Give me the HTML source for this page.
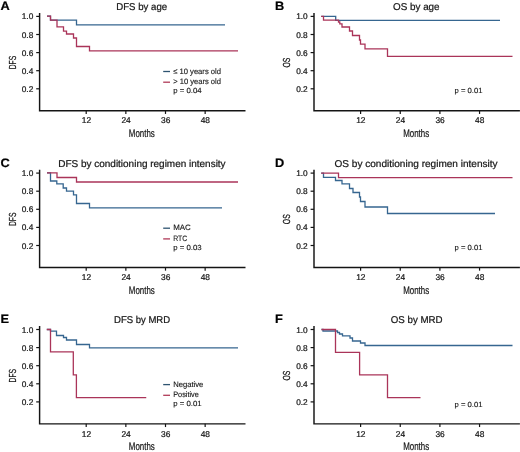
<!DOCTYPE html><html><head><meta charset="utf-8"><style>html,body{margin:0;padding:0;background:#fff;}svg{display:block;will-change:transform;}text{font-family:"Liberation Sans", sans-serif;text-rendering:geometricPrecision;stroke:#161616;stroke-width:0.22px;}</style></head><body>
<svg width="520" height="452" viewBox="0 0 520 452">
<rect width="520" height="452" fill="#fff"/>
<text transform="translate(0.6,9.8) scale(1.05,1)" font-size="12.2" font-weight="bold" fill="#000">A</text>
<text x="116.3" y="9.85" font-size="9.9" fill="#161616" textLength="50.8" lengthAdjust="spacingAndGlyphs">DFS by age</text>
<path d="M39.6,13 V110.75 H245.5" fill="none" stroke="#141414" stroke-width="1.45"/>
<path d="M36.2,16.4 H39.6" stroke="#141414" stroke-width="1.2"/>
<text x="33.3" y="19.4" font-size="8.3" fill="#161616" text-anchor="end">1.0</text>
<path d="M36.2,34.5 H39.6" stroke="#141414" stroke-width="1.2"/>
<text x="33.3" y="37.5" font-size="8.3" fill="#161616" text-anchor="end">0.8</text>
<path d="M36.2,52.6 H39.6" stroke="#141414" stroke-width="1.2"/>
<text x="33.3" y="55.6" font-size="8.3" fill="#161616" text-anchor="end">0.6</text>
<path d="M36.2,70.7 H39.6" stroke="#141414" stroke-width="1.2"/>
<text x="33.3" y="73.7" font-size="8.3" fill="#161616" text-anchor="end">0.4</text>
<path d="M36.2,88.8 H39.6" stroke="#141414" stroke-width="1.2"/>
<text x="33.3" y="91.8" font-size="8.3" fill="#161616" text-anchor="end">0.2</text>
<path d="M86.2,110.75 V113.95" stroke="#141414" stroke-width="1.2"/>
<text x="86.4" y="123.4" font-size="8.4" fill="#161616" text-anchor="middle">12</text>
<path d="M125.85,110.75 V113.95" stroke="#141414" stroke-width="1.2"/>
<text x="126.05" y="123.4" font-size="8.4" fill="#161616" text-anchor="middle">24</text>
<path d="M165.5,110.75 V113.95" stroke="#141414" stroke-width="1.2"/>
<text x="165.7" y="123.4" font-size="8.4" fill="#161616" text-anchor="middle">36</text>
<path d="M205.15,110.75 V113.95" stroke="#141414" stroke-width="1.2"/>
<text x="205.35" y="123.4" font-size="8.4" fill="#161616" text-anchor="middle">48</text>
<text x="128.8" y="137.2" font-size="11" fill="#161616" textLength="26" lengthAdjust="spacingAndGlyphs">Months</text>
<text transform="translate(15.95,62.55) rotate(-90)" x="0" y="0" font-size="10.2" fill="#161616" text-anchor="middle" textLength="13.5" lengthAdjust="spacingAndGlyphs">DFS</text>
<path d="M47,16.2 H50.5 V20.2 H76.5 V24.8 H225" fill="none" stroke="#366690" stroke-width="1.3" stroke-linejoin="miter" stroke-linecap="butt"/>
<path d="M47,16.2 H50.5 V20.2 H57 V26.8 H63.5 V31.2 H66.5 V34 H73.5 V38 H76.5 V46.5 H89.5 V50.8 H238" fill="none" stroke="#aa3459" stroke-width="1.3" stroke-linejoin="miter" stroke-linecap="butt"/>
<path d="M163.2,71.5 H170" stroke="#2d5370" stroke-width="1.3"/>
<text x="173.2" y="73.5" font-size="7.8" fill="#161616" style="stroke-width:0.12px" textLength="47.8" lengthAdjust="spacingAndGlyphs">≤ 10 years old</text>
<path d="M163.2,82.2 H170" stroke="#b03a58" stroke-width="1.3"/>
<text x="173.2" y="84.2" font-size="7.8" fill="#161616" style="stroke-width:0.12px" textLength="47.8" lengthAdjust="spacingAndGlyphs">> 10 years old</text>
<text x="173.2" y="92.8" font-size="7.4" fill="#161616" style="stroke-width:0.12px" textLength="28.5" lengthAdjust="spacingAndGlyphs">p = 0.04</text>
<text transform="translate(275,9.8) scale(1.05,1)" font-size="12.2" font-weight="bold" fill="#000">B</text>
<text x="393" y="9.85" font-size="9.9" fill="#161616" textLength="46.6" lengthAdjust="spacingAndGlyphs">OS by age</text>
<path d="M314,13 V110.75 H519.9" fill="none" stroke="#141414" stroke-width="1.45"/>
<path d="M310.6,16.4 H314" stroke="#141414" stroke-width="1.2"/>
<text x="307.7" y="19.4" font-size="8.3" fill="#161616" text-anchor="end">1.0</text>
<path d="M310.6,34.5 H314" stroke="#141414" stroke-width="1.2"/>
<text x="307.7" y="37.5" font-size="8.3" fill="#161616" text-anchor="end">0.8</text>
<path d="M310.6,52.6 H314" stroke="#141414" stroke-width="1.2"/>
<text x="307.7" y="55.6" font-size="8.3" fill="#161616" text-anchor="end">0.6</text>
<path d="M310.6,70.7 H314" stroke="#141414" stroke-width="1.2"/>
<text x="307.7" y="73.7" font-size="8.3" fill="#161616" text-anchor="end">0.4</text>
<path d="M310.6,88.8 H314" stroke="#141414" stroke-width="1.2"/>
<text x="307.7" y="91.8" font-size="8.3" fill="#161616" text-anchor="end">0.2</text>
<path d="M360.6,110.75 V113.95" stroke="#141414" stroke-width="1.2"/>
<text x="360.8" y="123.4" font-size="8.4" fill="#161616" text-anchor="middle">12</text>
<path d="M400.25,110.75 V113.95" stroke="#141414" stroke-width="1.2"/>
<text x="400.45" y="123.4" font-size="8.4" fill="#161616" text-anchor="middle">24</text>
<path d="M439.9,110.75 V113.95" stroke="#141414" stroke-width="1.2"/>
<text x="440.1" y="123.4" font-size="8.4" fill="#161616" text-anchor="middle">36</text>
<path d="M479.55,110.75 V113.95" stroke="#141414" stroke-width="1.2"/>
<text x="479.75" y="123.4" font-size="8.4" fill="#161616" text-anchor="middle">48</text>
<text x="403.2" y="137.2" font-size="11" fill="#161616" textLength="26" lengthAdjust="spacingAndGlyphs">Months</text>
<text transform="translate(290.35,62.55) rotate(-90)" x="0" y="0" font-size="10.2" fill="#161616" text-anchor="middle" textLength="9.9" lengthAdjust="spacingAndGlyphs">OS</text>
<path d="M321.2,16.3 H335.7 V20.45 H500" fill="none" stroke="#366690" stroke-width="1.3" stroke-linejoin="miter" stroke-linecap="butt"/>
<path d="M321.2,16.3 H323.5 V20.2 H338.5 V22 H339.8 V23.8 H342 V27 H349.5 V31 H352.5 V35.5 H359.5 V40 H360.5 V44.2 H365 V48.8 H387.5 V56.3 H512.5" fill="none" stroke="#aa3459" stroke-width="1.3" stroke-linejoin="miter" stroke-linecap="butt"/>
<text x="454.5" y="93.4" font-size="7.4" fill="#161616" style="stroke-width:0.12px" textLength="28" lengthAdjust="spacingAndGlyphs">p = 0.01</text>
<text transform="translate(0.6,166.5) scale(1.05,1)" font-size="12.2" font-weight="bold" fill="#000">C</text>
<text x="58.25" y="166.55" font-size="9.9" fill="#161616" textLength="167.35" lengthAdjust="spacingAndGlyphs">DFS by conditioning regimen intensity</text>
<path d="M39.6,169.7 V267.45 H245.5" fill="none" stroke="#141414" stroke-width="1.45"/>
<path d="M36.2,173.1 H39.6" stroke="#141414" stroke-width="1.2"/>
<text x="33.3" y="176.1" font-size="8.3" fill="#161616" text-anchor="end">1.0</text>
<path d="M36.2,191.2 H39.6" stroke="#141414" stroke-width="1.2"/>
<text x="33.3" y="194.2" font-size="8.3" fill="#161616" text-anchor="end">0.8</text>
<path d="M36.2,209.3 H39.6" stroke="#141414" stroke-width="1.2"/>
<text x="33.3" y="212.3" font-size="8.3" fill="#161616" text-anchor="end">0.6</text>
<path d="M36.2,227.4 H39.6" stroke="#141414" stroke-width="1.2"/>
<text x="33.3" y="230.4" font-size="8.3" fill="#161616" text-anchor="end">0.4</text>
<path d="M36.2,245.5 H39.6" stroke="#141414" stroke-width="1.2"/>
<text x="33.3" y="248.5" font-size="8.3" fill="#161616" text-anchor="end">0.2</text>
<path d="M86.2,267.45 V270.65" stroke="#141414" stroke-width="1.2"/>
<text x="86.4" y="280.1" font-size="8.4" fill="#161616" text-anchor="middle">12</text>
<path d="M125.85,267.45 V270.65" stroke="#141414" stroke-width="1.2"/>
<text x="126.05" y="280.1" font-size="8.4" fill="#161616" text-anchor="middle">24</text>
<path d="M165.5,267.45 V270.65" stroke="#141414" stroke-width="1.2"/>
<text x="165.7" y="280.1" font-size="8.4" fill="#161616" text-anchor="middle">36</text>
<path d="M205.15,267.45 V270.65" stroke="#141414" stroke-width="1.2"/>
<text x="205.35" y="280.1" font-size="8.4" fill="#161616" text-anchor="middle">48</text>
<text x="128.8" y="293.9" font-size="11" fill="#161616" textLength="26" lengthAdjust="spacingAndGlyphs">Months</text>
<text transform="translate(15.95,219.25) rotate(-90)" x="0" y="0" font-size="10.2" fill="#161616" text-anchor="middle" textLength="13.5" lengthAdjust="spacingAndGlyphs">DFS</text>
<path d="M47,172.8 H50.5 V181 H56.8 V183.8 H63.2 V188 H66.5 V191.2 H73.5 V194.8 H76.5 V203.5 H89.5 V207.8 H222" fill="none" stroke="#366690" stroke-width="1.3" stroke-linejoin="miter" stroke-linecap="butt"/>
<path d="M47,172.8 H57 V177.5 H76.5 V182 H238" fill="none" stroke="#aa3459" stroke-width="1.3" stroke-linejoin="miter" stroke-linecap="butt"/>
<path d="M163.2,228.2 H170" stroke="#2d5370" stroke-width="1.3"/>
<text x="173.2" y="230.2" font-size="7.8" fill="#161616" style="stroke-width:0.12px" textLength="17.6" lengthAdjust="spacingAndGlyphs">MAC</text>
<path d="M163.2,238.9 H170" stroke="#b03a58" stroke-width="1.3"/>
<text x="173.2" y="240.9" font-size="7.8" fill="#161616" style="stroke-width:0.12px" textLength="14" lengthAdjust="spacingAndGlyphs">RTC</text>
<text x="173.2" y="249.5" font-size="7.4" fill="#161616" style="stroke-width:0.12px" textLength="28.5" lengthAdjust="spacingAndGlyphs">p = 0.03</text>
<text transform="translate(275,166.5) scale(1.05,1)" font-size="12.2" font-weight="bold" fill="#000">D</text>
<text x="334.5" y="166.55" font-size="9.9" fill="#161616" textLength="163.1" lengthAdjust="spacingAndGlyphs">OS by conditioning regimen intensity</text>
<path d="M314,169.7 V267.45 H519.9" fill="none" stroke="#141414" stroke-width="1.45"/>
<path d="M310.6,173.1 H314" stroke="#141414" stroke-width="1.2"/>
<text x="307.7" y="176.1" font-size="8.3" fill="#161616" text-anchor="end">1.0</text>
<path d="M310.6,191.2 H314" stroke="#141414" stroke-width="1.2"/>
<text x="307.7" y="194.2" font-size="8.3" fill="#161616" text-anchor="end">0.8</text>
<path d="M310.6,209.3 H314" stroke="#141414" stroke-width="1.2"/>
<text x="307.7" y="212.3" font-size="8.3" fill="#161616" text-anchor="end">0.6</text>
<path d="M310.6,227.4 H314" stroke="#141414" stroke-width="1.2"/>
<text x="307.7" y="230.4" font-size="8.3" fill="#161616" text-anchor="end">0.4</text>
<path d="M310.6,245.5 H314" stroke="#141414" stroke-width="1.2"/>
<text x="307.7" y="248.5" font-size="8.3" fill="#161616" text-anchor="end">0.2</text>
<path d="M360.6,267.45 V270.65" stroke="#141414" stroke-width="1.2"/>
<text x="360.8" y="280.1" font-size="8.4" fill="#161616" text-anchor="middle">12</text>
<path d="M400.25,267.45 V270.65" stroke="#141414" stroke-width="1.2"/>
<text x="400.45" y="280.1" font-size="8.4" fill="#161616" text-anchor="middle">24</text>
<path d="M439.9,267.45 V270.65" stroke="#141414" stroke-width="1.2"/>
<text x="440.1" y="280.1" font-size="8.4" fill="#161616" text-anchor="middle">36</text>
<path d="M479.55,267.45 V270.65" stroke="#141414" stroke-width="1.2"/>
<text x="479.75" y="280.1" font-size="8.4" fill="#161616" text-anchor="middle">48</text>
<text x="403.2" y="293.9" font-size="11" fill="#161616" textLength="26" lengthAdjust="spacingAndGlyphs">Months</text>
<text transform="translate(290.35,219.25) rotate(-90)" x="0" y="0" font-size="10.2" fill="#161616" text-anchor="middle" textLength="9.9" lengthAdjust="spacingAndGlyphs">OS</text>
<path d="M321.2,173.2 H323.5 V177.3 H335.5 V180.5 H342 V183.8 H349.5 V188.5 H353 V192.5 H359.5 V197 H360.5 V201.5 H365 V207 H387.5 V213.5 H495" fill="none" stroke="#366690" stroke-width="1.3" stroke-linejoin="miter" stroke-linecap="butt"/>
<path d="M321.2,173.2 H338.5 V177.7 H512.5" fill="none" stroke="#aa3459" stroke-width="1.3" stroke-linejoin="miter" stroke-linecap="butt"/>
<text x="454.5" y="250.1" font-size="7.4" fill="#161616" style="stroke-width:0.12px" textLength="28" lengthAdjust="spacingAndGlyphs">p = 0.01</text>
<text transform="translate(0.6,322.9) scale(1.05,1)" font-size="12.2" font-weight="bold" fill="#000">E</text>
<text x="114" y="322.95" font-size="9.9" fill="#161616" textLength="56.1" lengthAdjust="spacingAndGlyphs">DFS by MRD</text>
<path d="M39.6,326.1 V423.85 H245.5" fill="none" stroke="#141414" stroke-width="1.45"/>
<path d="M36.2,329.5 H39.6" stroke="#141414" stroke-width="1.2"/>
<text x="33.3" y="332.5" font-size="8.3" fill="#161616" text-anchor="end">1.0</text>
<path d="M36.2,347.6 H39.6" stroke="#141414" stroke-width="1.2"/>
<text x="33.3" y="350.6" font-size="8.3" fill="#161616" text-anchor="end">0.8</text>
<path d="M36.2,365.7 H39.6" stroke="#141414" stroke-width="1.2"/>
<text x="33.3" y="368.7" font-size="8.3" fill="#161616" text-anchor="end">0.6</text>
<path d="M36.2,383.8 H39.6" stroke="#141414" stroke-width="1.2"/>
<text x="33.3" y="386.8" font-size="8.3" fill="#161616" text-anchor="end">0.4</text>
<path d="M36.2,401.9 H39.6" stroke="#141414" stroke-width="1.2"/>
<text x="33.3" y="404.9" font-size="8.3" fill="#161616" text-anchor="end">0.2</text>
<path d="M86.2,423.85 V427.05" stroke="#141414" stroke-width="1.2"/>
<text x="86.4" y="436.5" font-size="8.4" fill="#161616" text-anchor="middle">12</text>
<path d="M125.85,423.85 V427.05" stroke="#141414" stroke-width="1.2"/>
<text x="126.05" y="436.5" font-size="8.4" fill="#161616" text-anchor="middle">24</text>
<path d="M165.5,423.85 V427.05" stroke="#141414" stroke-width="1.2"/>
<text x="165.7" y="436.5" font-size="8.4" fill="#161616" text-anchor="middle">36</text>
<path d="M205.15,423.85 V427.05" stroke="#141414" stroke-width="1.2"/>
<text x="205.35" y="436.5" font-size="8.4" fill="#161616" text-anchor="middle">48</text>
<text x="128.8" y="450.3" font-size="11" fill="#161616" textLength="26" lengthAdjust="spacingAndGlyphs">Months</text>
<text transform="translate(15.95,375.65) rotate(-90)" x="0" y="0" font-size="10.2" fill="#161616" text-anchor="middle" textLength="13.5" lengthAdjust="spacingAndGlyphs">DFS</text>
<path d="M46.8,329.5 H50.5 V331.2 H56.5 V335.5 H63.5 V337.5 H66.5 V340 H76.5 V344.5 H89.5 V347.8 H238" fill="none" stroke="#366690" stroke-width="1.3" stroke-linejoin="miter" stroke-linecap="butt"/>
<path d="M46.8,329.5 H50.5 V351.8 H73.3 V374.8 H76.4 V397.6 H146.25" fill="none" stroke="#aa3459" stroke-width="1.3" stroke-linejoin="miter" stroke-linecap="butt"/>
<path d="M163.2,384.6 H170" stroke="#2d5370" stroke-width="1.3"/>
<text x="173.2" y="386.6" font-size="7.8" fill="#161616" style="stroke-width:0.12px" textLength="30.2" lengthAdjust="spacingAndGlyphs">Negative</text>
<path d="M163.2,395.3 H170" stroke="#b03a58" stroke-width="1.3"/>
<text x="173.2" y="397.3" font-size="7.8" fill="#161616" style="stroke-width:0.12px" textLength="25.6" lengthAdjust="spacingAndGlyphs">Positive</text>
<text x="173.2" y="405.9" font-size="7.4" fill="#161616" style="stroke-width:0.12px" textLength="28.5" lengthAdjust="spacingAndGlyphs">p = 0.01</text>
<text transform="translate(275,322.9) scale(1.05,1)" font-size="12.2" font-weight="bold" fill="#000">F</text>
<text x="390.75" y="322.95" font-size="9.9" fill="#161616" textLength="51.85" lengthAdjust="spacingAndGlyphs">OS by MRD</text>
<path d="M314,326.1 V423.85 H519.9" fill="none" stroke="#141414" stroke-width="1.45"/>
<path d="M310.6,329.5 H314" stroke="#141414" stroke-width="1.2"/>
<text x="307.7" y="332.5" font-size="8.3" fill="#161616" text-anchor="end">1.0</text>
<path d="M310.6,347.6 H314" stroke="#141414" stroke-width="1.2"/>
<text x="307.7" y="350.6" font-size="8.3" fill="#161616" text-anchor="end">0.8</text>
<path d="M310.6,365.7 H314" stroke="#141414" stroke-width="1.2"/>
<text x="307.7" y="368.7" font-size="8.3" fill="#161616" text-anchor="end">0.6</text>
<path d="M310.6,383.8 H314" stroke="#141414" stroke-width="1.2"/>
<text x="307.7" y="386.8" font-size="8.3" fill="#161616" text-anchor="end">0.4</text>
<path d="M310.6,401.9 H314" stroke="#141414" stroke-width="1.2"/>
<text x="307.7" y="404.9" font-size="8.3" fill="#161616" text-anchor="end">0.2</text>
<path d="M360.6,423.85 V427.05" stroke="#141414" stroke-width="1.2"/>
<text x="360.8" y="436.5" font-size="8.4" fill="#161616" text-anchor="middle">12</text>
<path d="M400.25,423.85 V427.05" stroke="#141414" stroke-width="1.2"/>
<text x="400.45" y="436.5" font-size="8.4" fill="#161616" text-anchor="middle">24</text>
<path d="M439.9,423.85 V427.05" stroke="#141414" stroke-width="1.2"/>
<text x="440.1" y="436.5" font-size="8.4" fill="#161616" text-anchor="middle">36</text>
<path d="M479.55,423.85 V427.05" stroke="#141414" stroke-width="1.2"/>
<text x="479.75" y="436.5" font-size="8.4" fill="#161616" text-anchor="middle">48</text>
<text x="403.2" y="450.3" font-size="11" fill="#161616" textLength="26" lengthAdjust="spacingAndGlyphs">Months</text>
<text transform="translate(290.35,375.65) rotate(-90)" x="0" y="0" font-size="10.2" fill="#161616" text-anchor="middle" textLength="9.9" lengthAdjust="spacingAndGlyphs">OS</text>
<path d="M321.5,329.5 H323 V331 H337.5 V332.5 H339.5 V334 H342.5 V335.8 H350 V338 H352.5 V341 H360.5 V343 H365 V345.5 H512.5" fill="none" stroke="#366690" stroke-width="1.3" stroke-linejoin="miter" stroke-linecap="butt"/>
<path d="M321.5,329.5 H335.5 V352.3 H359.6 V374.8 H387.5 V397.6 H420.5" fill="none" stroke="#aa3459" stroke-width="1.3" stroke-linejoin="miter" stroke-linecap="butt"/>
<text x="454.5" y="406.5" font-size="7.4" fill="#161616" style="stroke-width:0.12px" textLength="28" lengthAdjust="spacingAndGlyphs">p = 0.01</text>
</svg></body></html>
